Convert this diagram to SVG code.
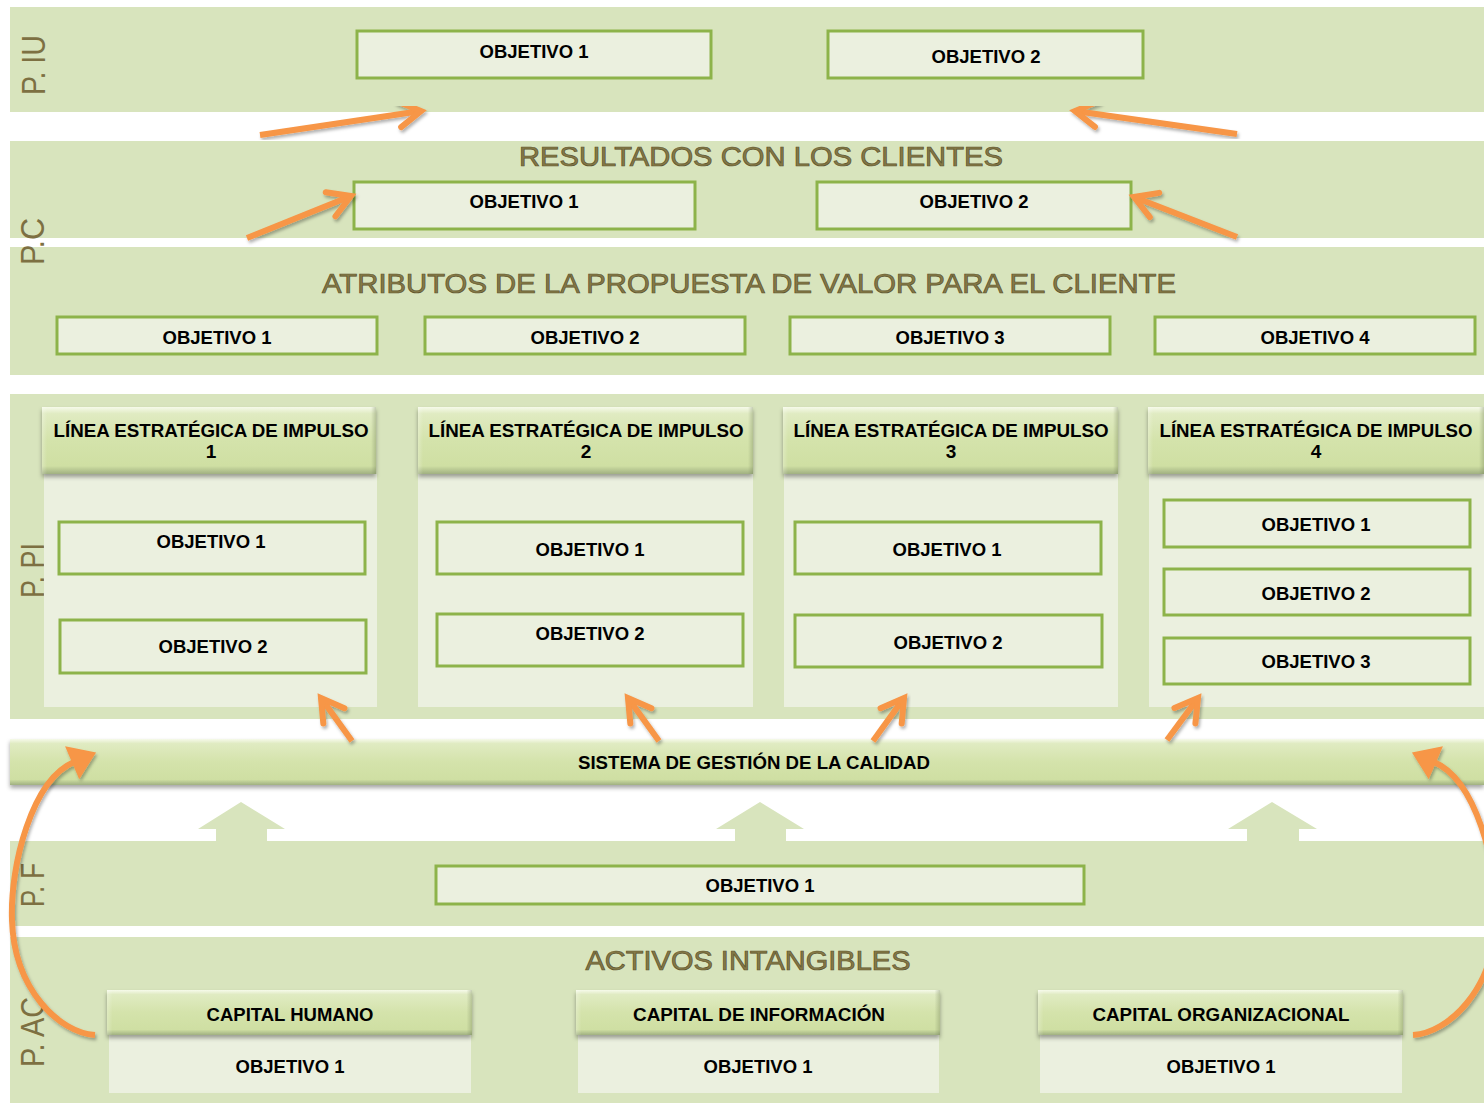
<svg xmlns="http://www.w3.org/2000/svg" width="1484" height="1103" viewBox="0 0 1484 1103">
  <defs>
    <style>
      .band { fill: #d8e4bd; }
      .panel { fill: #ebf0df; }
      .obj { fill: #ebf0df; stroke: #8db34a; stroke-width: 3; }
      .bevel { fill: url(#bevelV); filter: url(#bshadow); }
      .bevel-side { fill: url(#bevelH); }
      .t { font-family: "Liberation Sans", Arial, sans-serif; font-weight: bold; font-size: 18.5px; fill: #000; text-anchor: middle; }
      .th { font-family: "Liberation Sans", Arial, sans-serif; font-weight: bold; font-size: 19px; fill: #000; text-anchor: middle; }
      .title { font-family: "Liberation Sans", Arial, sans-serif; font-size: 27px; fill: #857946; stroke: #5c532e; stroke-width: 0.7; text-anchor: middle; }
      .side { font-family: "Liberation Sans", Arial, sans-serif; font-size: 34px; fill: #7d7042; }
      .up { fill: #d8e4bd; }
      .oarrow { fill: none; stroke: #f79646; stroke-width: 6; filter: url(#oshadow); }
    </style>
    <linearGradient id="bevelV" x1="0" y1="0" x2="0" y2="1">
      <stop offset="0" stop-color="#f6faea"/>
      <stop offset="0.1" stop-color="#e0ebc2"/>
      <stop offset="0.5" stop-color="#d4e3ab"/>
      <stop offset="0.88" stop-color="#cfdfa3"/>
      <stop offset="1" stop-color="#a0b081"/>
    </linearGradient>
    <linearGradient id="bevelH" x1="0" y1="0" x2="1" y2="0">
      <stop offset="0" stop-color="#ffffff" stop-opacity="0.25"/>
      <stop offset="0.015" stop-color="#ffffff" stop-opacity="0"/>
      <stop offset="0.985" stop-color="#6f7d55" stop-opacity="0"/>
      <stop offset="1" stop-color="#6f7d55" stop-opacity="0.35"/>
    </linearGradient>
    <filter id="bshadow" x="-5%" y="-20%" width="110%" height="150%">
      <feDropShadow dx="0" dy="3" stdDeviation="2" flood-color="#000" flood-opacity="0.35"/>
    </filter>
    <filter id="oshadow" x="-20%" y="-20%" width="140%" height="140%">
      <feDropShadow dx="1.5" dy="2.5" stdDeviation="1.8" flood-color="#000" flood-opacity="0.3"/>
    </filter>
    <marker id="chev" markerUnits="userSpaceOnUse" markerWidth="60" markerHeight="60" refX="0" refY="0" orient="auto" overflow="visible" viewBox="-30 -30 60 60">
      <path d="M-22,-13 L0,0 L-22,13" fill="none" stroke="#f79646" stroke-width="6" stroke-linecap="round" stroke-linejoin="miter"/>
    </marker>
    <marker id="tri" markerUnits="userSpaceOnUse" markerWidth="60" markerHeight="60" refX="0" refY="0" orient="auto" overflow="visible" viewBox="-30 -30 60 60">
      <path d="M-2,-18 L24,0 L-2,18 Z" fill="#f79646"/>
    </marker>
  </defs>

  <rect width="1484" height="1103" fill="#ffffff"/>

  <!-- perspective bands -->
  <g id="bands">
    <rect class="band" x="10" y="7" width="1474" height="105"/>
    <rect class="band" x="10" y="141" width="1474" height="97"/>
    <rect class="band" x="10" y="247" width="1474" height="128"/>
    <rect class="band" x="10" y="394" width="1474" height="325"/>
    <rect class="band" x="10" y="841" width="1474" height="85"/>
    <rect class="band" x="10" y="937" width="1474" height="166"/>
  </g>

  <!-- perspective labels -->
  <g id="side-labels">
    <text class="side" transform="translate(45,95) rotate(-90)" textLength="60" lengthAdjust="spacingAndGlyphs">P. IU</text>
    <text class="side" transform="translate(44,265) rotate(-90)" textLength="47" lengthAdjust="spacingAndGlyphs">P.C</text>
    <text class="side" transform="translate(44,598) rotate(-90)" textLength="55" lengthAdjust="spacingAndGlyphs">P. PI</text>
    <text class="side" transform="translate(44,907) rotate(-90)" textLength="44" lengthAdjust="spacingAndGlyphs">P. F</text>
    <text class="side" transform="translate(44,1067) rotate(-90)" textLength="70" lengthAdjust="spacingAndGlyphs">P. AC</text>
  </g>

  <!-- section titles -->
  <g id="titles">
    <text class="title" x="761" y="166" textLength="484" lengthAdjust="spacingAndGlyphs">RESULTADOS CON LOS CLIENTES</text>
    <text class="title" x="749" y="293" textLength="854" lengthAdjust="spacingAndGlyphs">ATRIBUTOS DE LA PROPUESTA DE VALOR PARA EL CLIENTE</text>
    <text class="title" x="748" y="970" textLength="325" lengthAdjust="spacingAndGlyphs">ACTIVOS INTANGIBLES</text>
  </g>

  <!-- P.IU objectives -->
  <g id="iu-obj1"><rect class="obj" x="357" y="31" width="354" height="47"/><text class="t" x="534" y="57.5">OBJETIVO 1</text></g>
  <g id="iu-obj2"><rect class="obj" x="828" y="31" width="315" height="47"/><text class="t" x="986" y="62.5">OBJETIVO 2</text></g>

  <!-- P.C objectives -->
  <g id="c-obj1"><rect class="obj" x="354" y="182" width="341" height="47"/><text class="t" x="524" y="208">OBJETIVO 1</text></g>
  <g id="c-obj2"><rect class="obj" x="817" y="182" width="314" height="47"/><text class="t" x="974" y="208">OBJETIVO 2</text></g>

  <!-- value proposition attributes -->
  <g id="a-obj1"><rect class="obj" x="57" y="317" width="320" height="37"/><text class="t" x="217" y="343.5">OBJETIVO 1</text></g>
  <g id="a-obj2"><rect class="obj" x="425" y="317" width="320" height="37"/><text class="t" x="585" y="343.5">OBJETIVO 2</text></g>
  <g id="a-obj3"><rect class="obj" x="790" y="317" width="320" height="37"/><text class="t" x="950" y="343.5">OBJETIVO 3</text></g>
  <g id="a-obj4"><rect class="obj" x="1155" y="317" width="320" height="37"/><text class="t" x="1315" y="343.5">OBJETIVO 4</text></g>

  <!-- strategic lines -->
  <g id="line1">
    <rect class="panel" x="44" y="474" width="333" height="233"/>
    <rect class="bevel" x="42" y="407" width="334" height="67"/>
    <rect class="bevel-side" x="42" y="407" width="334" height="67"/>
    <text class="th" x="211" y="437" textLength="315" lengthAdjust="spacingAndGlyphs">LÍNEA ESTRATÉGICA DE IMPULSO</text>
    <text class="th" x="211" y="458">1</text>
  </g>
  <g id="line2">
    <rect class="panel" x="418" y="474" width="335" height="233"/>
    <rect class="bevel" x="418" y="407" width="335" height="67"/>
    <rect class="bevel-side" x="418" y="407" width="335" height="67"/>
    <text class="th" x="586" y="437" textLength="315" lengthAdjust="spacingAndGlyphs">LÍNEA ESTRATÉGICA DE IMPULSO</text>
    <text class="th" x="586" y="458">2</text>
  </g>
  <g id="line3">
    <rect class="panel" x="784" y="474" width="334" height="233"/>
    <rect class="bevel" x="783" y="407" width="335" height="67"/>
    <rect class="bevel-side" x="783" y="407" width="335" height="67"/>
    <text class="th" x="951" y="437" textLength="315" lengthAdjust="spacingAndGlyphs">LÍNEA ESTRATÉGICA DE IMPULSO</text>
    <text class="th" x="951" y="458">3</text>
  </g>
  <g id="line4">
    <rect class="panel" x="1149" y="474" width="335" height="233"/>
    <rect class="bevel" x="1148" y="407" width="336" height="67"/>
    <rect class="bevel-side" x="1148" y="407" width="336" height="67"/>
    <text class="th" x="1316" y="437" textLength="313" lengthAdjust="spacingAndGlyphs">LÍNEA ESTRATÉGICA DE IMPULSO</text>
    <text class="th" x="1316" y="458">4</text>
  </g>

  <g id="l1-obj1"><rect class="obj" x="59" y="522" width="306" height="52"/><text class="t" x="211" y="548">OBJETIVO 1</text></g>
  <g id="l1-obj2"><rect class="obj" x="60" y="620" width="306" height="53"/><text class="t" x="213" y="653">OBJETIVO 2</text></g>
  <g id="l2-obj1"><rect class="obj" x="437" y="522" width="306" height="52"/><text class="t" x="590" y="555.5">OBJETIVO 1</text></g>
  <g id="l2-obj2"><rect class="obj" x="437" y="614" width="306" height="52"/><text class="t" x="590" y="639.5">OBJETIVO 2</text></g>
  <g id="l3-obj1"><rect class="obj" x="795" y="522" width="306" height="52"/><text class="t" x="947" y="555.5">OBJETIVO 1</text></g>
  <g id="l3-obj2"><rect class="obj" x="795" y="615" width="307" height="52"/><text class="t" x="948" y="648.5">OBJETIVO 2</text></g>
  <g id="l4-obj1"><rect class="obj" x="1164" y="500" width="306" height="47"/><text class="t" x="1316" y="531">OBJETIVO 1</text></g>
  <g id="l4-obj2"><rect class="obj" x="1164" y="569" width="306" height="46"/><text class="t" x="1316" y="600">OBJETIVO 2</text></g>
  <g id="l4-obj3"><rect class="obj" x="1164" y="638" width="306" height="46"/><text class="t" x="1316" y="668">OBJETIVO 3</text></g>

  <!-- quality management system -->
  <g id="sgc">
    <rect class="bevel" x="10" y="739" width="1474" height="46"/>
    <rect class="bevel-side" x="10" y="739" width="2" height="46"/>
    <text class="t" x="754" y="769" textLength="352" lengthAdjust="spacingAndGlyphs">SISTEMA DE GESTIÓN DE LA CALIDAD</text>
  </g>

  <!-- block arrows from finance -->
  <g id="block-arrows">
    <polygon class="up" points="241,802 285,829 267,829 267,842 216,842 216,829 198,829"/>
    <polygon class="up" points="760,802 804,829 786,829 786,842 735,842 735,829 716,829"/>
    <polygon class="up" points="1272,802 1317,829 1299,829 1299,842 1247,842 1247,829 1228,829"/>
  </g>

  <!-- P.F objective -->
  <g id="f-obj1"><rect class="obj" x="436" y="866" width="648" height="38"/><text class="t" x="760" y="891.5">OBJETIVO 1</text></g>

  <!-- intangible assets -->
  <g id="cap-humano">
    <rect class="panel" x="109" y="1035" width="362" height="58"/>
    <rect class="bevel" x="107" y="990" width="365" height="45"/>
    <rect class="bevel-side" x="107" y="990" width="365" height="45"/>
    <text class="t" x="290" y="1021">CAPITAL HUMANO</text>
    <text class="t" x="290" y="1073">OBJETIVO 1</text>
  </g>
  <g id="cap-info">
    <rect class="panel" x="578" y="1035" width="361" height="58"/>
    <rect class="bevel" x="576" y="990" width="364" height="45"/>
    <rect class="bevel-side" x="576" y="990" width="364" height="45"/>
    <text class="t" x="759" y="1021" textLength="252" lengthAdjust="spacingAndGlyphs">CAPITAL DE INFORMACIÓN</text>
    <text class="t" x="758" y="1073">OBJETIVO 1</text>
  </g>
  <g id="cap-org">
    <rect class="panel" x="1040" y="1035" width="362" height="58"/>
    <rect class="bevel" x="1038" y="990" width="365" height="45"/>
    <rect class="bevel-side" x="1038" y="990" width="365" height="45"/>
    <text class="t" x="1221" y="1021" textLength="257" lengthAdjust="spacingAndGlyphs">CAPITAL ORGANIZACIONAL</text>
    <text class="t" x="1221" y="1073">OBJETIVO 1</text>
  </g>

  <!-- connectors -->
  <g id="connectors">
    <path class="oarrow" d="M260,135 L421,111" marker-end="url(#chev)"/>
    <path class="oarrow" d="M1237,134 L1075,111" marker-end="url(#chev)"/>
    <path class="oarrow" d="M247,238 L351,196" marker-end="url(#chev)"/>
    <path class="oarrow" d="M1237,237 L1134,197" marker-end="url(#chev)"/>
    <path class="oarrow" d="M401,404 L401,357" marker-end="url(#chev)"/>
    <path class="oarrow" d="M767,404 L767,357" marker-end="url(#chev)"/>
    <path class="oarrow" d="M1132,404 L1132,357" marker-end="url(#chev)"/>
    <path class="oarrow" d="M352,741 L321,698" marker-end="url(#chev)"/>
    <path class="oarrow" d="M659,741 L628,698" marker-end="url(#chev)"/>
    <path class="oarrow" d="M873,741 L904,698" marker-end="url(#chev)"/>
    <path class="oarrow" d="M1167,740 L1198,698" marker-end="url(#chev)"/>
    <path class="oarrow" d="M95,1035 C60,1033 14,990 12,920 C10,865 32,780 74,762" marker-end="url(#tri)"/>
    <path class="oarrow" d="M1413,1035 C1448,1033 1494,990 1496,920 C1498,865 1476,780 1434,762" marker-end="url(#tri)"/>
  </g>
</svg>
